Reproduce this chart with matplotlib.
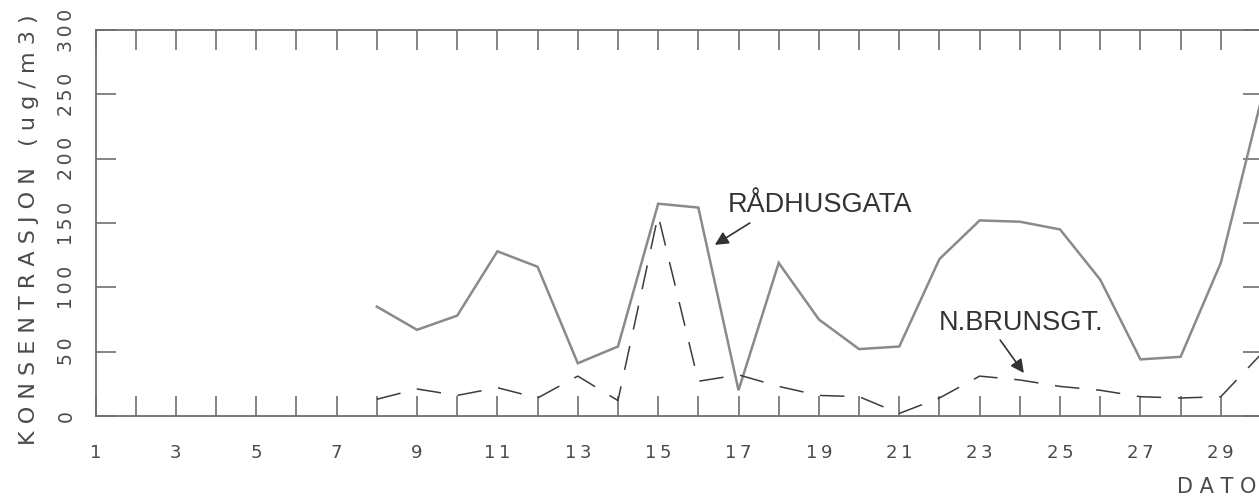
import numpy as np
import matplotlib
matplotlib.use("Agg")
import matplotlib.pyplot as plt

# days of month (x) and concentrations (ug/m3)
days = np.arange(8, 31)
radhusgata = [85, 67, 78, 128, 116, 41, 54, 165, 162, 20, 119, 75, 52, 54,
              122, 152, 151, 145, 106, 44, 46, 119, 245]
brunsgt = [13, 21, 16, 22, 14, 31, 12, 156, 27, 32, 23, 16, 15, 2,
           14, 31, 28, 23, 20, 15, 14, 15, 48]

all_days = np.arange(1, 31)
yticks = [0, 50, 100, 150, 200, 250, 300]

plotfont = 'DejaVu Sans'
spine_col = '#6e6e6e'
txt_col = '#4a4a4a'
thin = '\u2009'

W, H = 1259, 499
fig = plt.figure(figsize=(W / 100, H / 100), dpi=100)
ax = fig.add_axes([95.5 / W, 83 / H, (1263 - 95.5) / W, 386 / H])

ax.plot(days, radhusgata, color='#8a8a8a', lw=1.8, solid_joinstyle='miter')
ax.plot(days, brunsgt, color='#3c3c3c', lw=1.1, dashes=(16, 11))

ax.set_xlim(1, 30.05)
ax.set_ylim(0, 300)

for s in ax.spines.values():
    s.set_color(spine_col)
    s.set_linewidth(1.3)

# ticks on every day, labels on odd days
ax.set_xticks(all_days)
ax.set_xticklabels([thin.join(str(d)) if d % 2 == 1 else '' for d in all_days],
                   family=plotfont, fontsize=13, color=txt_col)
ax.set_yticks(yticks)
ax.set_yticklabels([thin.join(str(v)) for v in yticks], family=plotfont,
                   fontsize=13.5, color=txt_col, rotation=90, va='center')
ax.tick_params(axis='both', direction='in', length=14.5, width=1.2,
               color=spine_col, top=True, right=True)
ax.tick_params(axis='x', pad=20)
ax.tick_params(axis='y', pad=14)

fig.text(29 / W, 1 - 230 / H, 'K O N S E N T R A S J O N   ( u g / m 3 )',
         rotation=90, ha='center', va='center', family=plotfont,
         fontsize=16, color=txt_col)
fig.text(1 - 3 / W, 1 - 487 / H, 'D A T O', ha='right', va='center',
         family=plotfont, fontsize=15, color=txt_col)

# station labels and arrows
ax.text(16.72, 164, 'RÅDHUSGATA', family='Liberation Sans', fontsize=19.5,
        color='#333333', ha='left', va='center')
ax.annotate('', xy=(16.41, 133), xytext=(17.28, 150),
            arrowprops=dict(arrowstyle='-|>', color='#333333', lw=1.2,
                            mutation_scale=20, shrinkA=0, shrinkB=0))
ax.text(21.99, 72, 'N.BRUNSGT.', family='Liberation Sans', fontsize=19.5,
        color='#333333', ha='left', va='center')
ax.annotate('', xy=(24.10, 33.4), xytext=(23.51, 59),
            arrowprops=dict(arrowstyle='-|>', color='#333333', lw=1.2,
                            mutation_scale=20, shrinkA=0, shrinkB=0))

fig.savefig('out.png', dpi=100)
